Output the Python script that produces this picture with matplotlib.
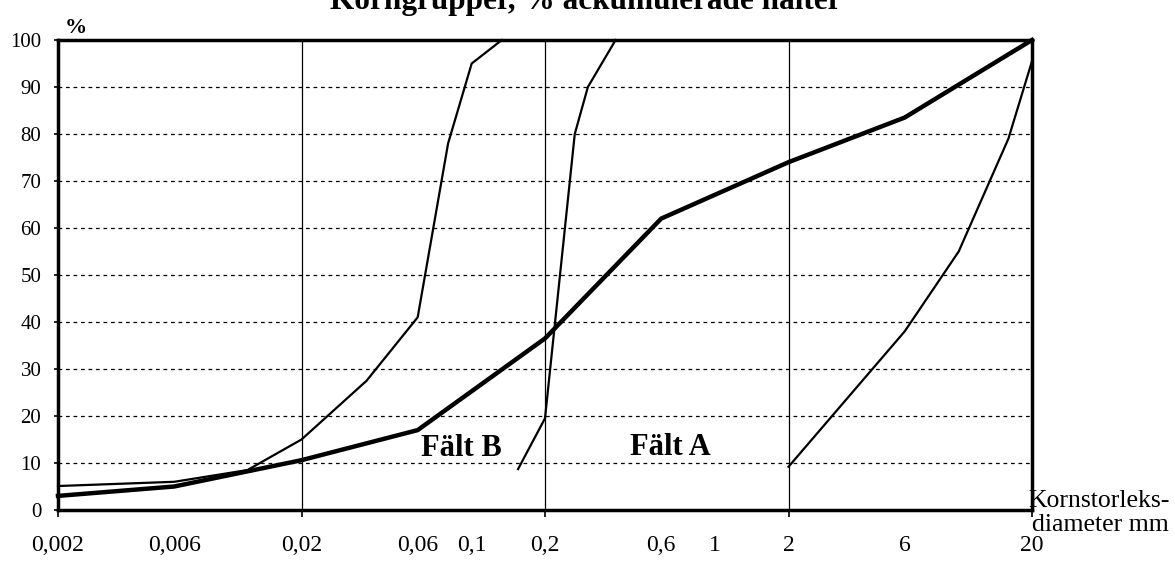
import numpy as np
import matplotlib.pyplot as plt
from matplotlib.ticker import FixedLocator, NullFormatter

plt.rcParams['font.family'] = ['Liberation Serif', 'DejaVu Serif']

# -----------------------------------------------------------------------------
# Data (x = grain diameter in mm, y = accumulated %)
# -----------------------------------------------------------------------------
main_x = [0.002, 0.006, 0.02, 0.06, 0.2, 0.6, 2, 6, 20]
main_y = [3, 5, 10.6, 17, 36.5, 62, 74, 83.5, 100]

falt_b_x = [0.002, 0.006, 0.012, 0.02, 0.037, 0.06, 0.08, 0.1, 0.133]
falt_b_y = [5.1, 6, 8.5, 15, 27.5, 41, 78, 95, 100]

falt_a_x = [0.155, 0.2, 0.265, 0.3, 0.39]
falt_a_y = [8.7, 19.5, 80, 90, 100]

gravel_x = [2, 6, 10, 16, 20]
gravel_y = [9.2, 38, 55, 79, 95.5]

tick_vals = [0.002, 0.006, 0.02, 0.06, 0.1, 0.2, 0.6, 1, 2, 6, 20]
tick_labels = ['0,002', '0,006', '0,02', '0,06', '0,1', '0,2', '0,6', '1', '2', '6', '20']
decades = [0.002, 0.02, 0.2, 2, 20]
y_ticks = list(range(0, 101, 10))

# -----------------------------------------------------------------------------
# Figure
# -----------------------------------------------------------------------------
fig = plt.figure(figsize=(11.75, 5.62), dpi=100)
ax = fig.add_axes([58 / 1175, 52 / 562, 974 / 1175, 470 / 562])

ax.set_xscale('log')
ax.set_xlim(0.002, 20)
ax.set_ylim(0, 100)

# grid: dotted horizontals, thin solid verticals at the decades
for y in y_ticks[1:-1]:
    ax.axhline(y, color='black', lw=0.9, ls=(0, (3, 3)), zorder=1)
for d in decades[1:-1]:
    ax.axvline(d, color='black', lw=0.9, zorder=1)

ax.plot(main_x, main_y, color='black', lw=3.2, zorder=3, clip_on=False)
ax.plot(falt_b_x, falt_b_y, color='black', lw=1.6, zorder=2, clip_on=False)
ax.plot(falt_a_x, falt_a_y, color='black', lw=1.6, zorder=2, clip_on=False)
ax.plot(gravel_x, gravel_y, color='black', lw=1.6, zorder=2, clip_on=False)

ax.text(0.091, 13, 'Fält B', fontsize=22, fontweight='bold', ha='center', va='center')
ax.text(0.652, 13.3, 'Fält A', fontsize=22, fontweight='bold', ha='center', va='center')

# x axis: labels at the values, small marks only at the decades
ax.xaxis.remove_overlapping_locs = False
ax.xaxis.set_major_locator(FixedLocator(tick_vals))
ax.set_xticklabels(tick_labels)
ax.xaxis.set_minor_locator(FixedLocator(decades))
ax.xaxis.set_minor_formatter(NullFormatter())
ax.tick_params(axis='x', which='major', length=0, pad=18, labelsize=17)
ax.tick_params(axis='x', which='minor', length=5, width=1.2)

ax.set_yticks(y_ticks)
ax.tick_params(axis='y', length=3, width=1.2, pad=9, labelsize=15)

for sp in ax.spines.values():
    sp.set_linewidth(2.5)

fig.text(586 / 1175, 1 - 9 / 562, 'Korngrupper, % ackumulerade halter',
         fontsize=22.5, fontweight='bold', ha='center', va='baseline')
fig.text(76 / 1175, 1 - 33 / 562, '%', fontsize=16, fontweight='bold',
         ha='center', va='baseline')
fig.text(1028 / 1175, (562 - 507) / 562, 'Kornstorleks-', fontsize=18.5,
         ha='left', va='baseline')
fig.text(1032 / 1175, (562 - 531) / 562, 'diameter mm', fontsize=18.5,
         ha='left', va='baseline')

fig.savefig('out.png', dpi=100)
